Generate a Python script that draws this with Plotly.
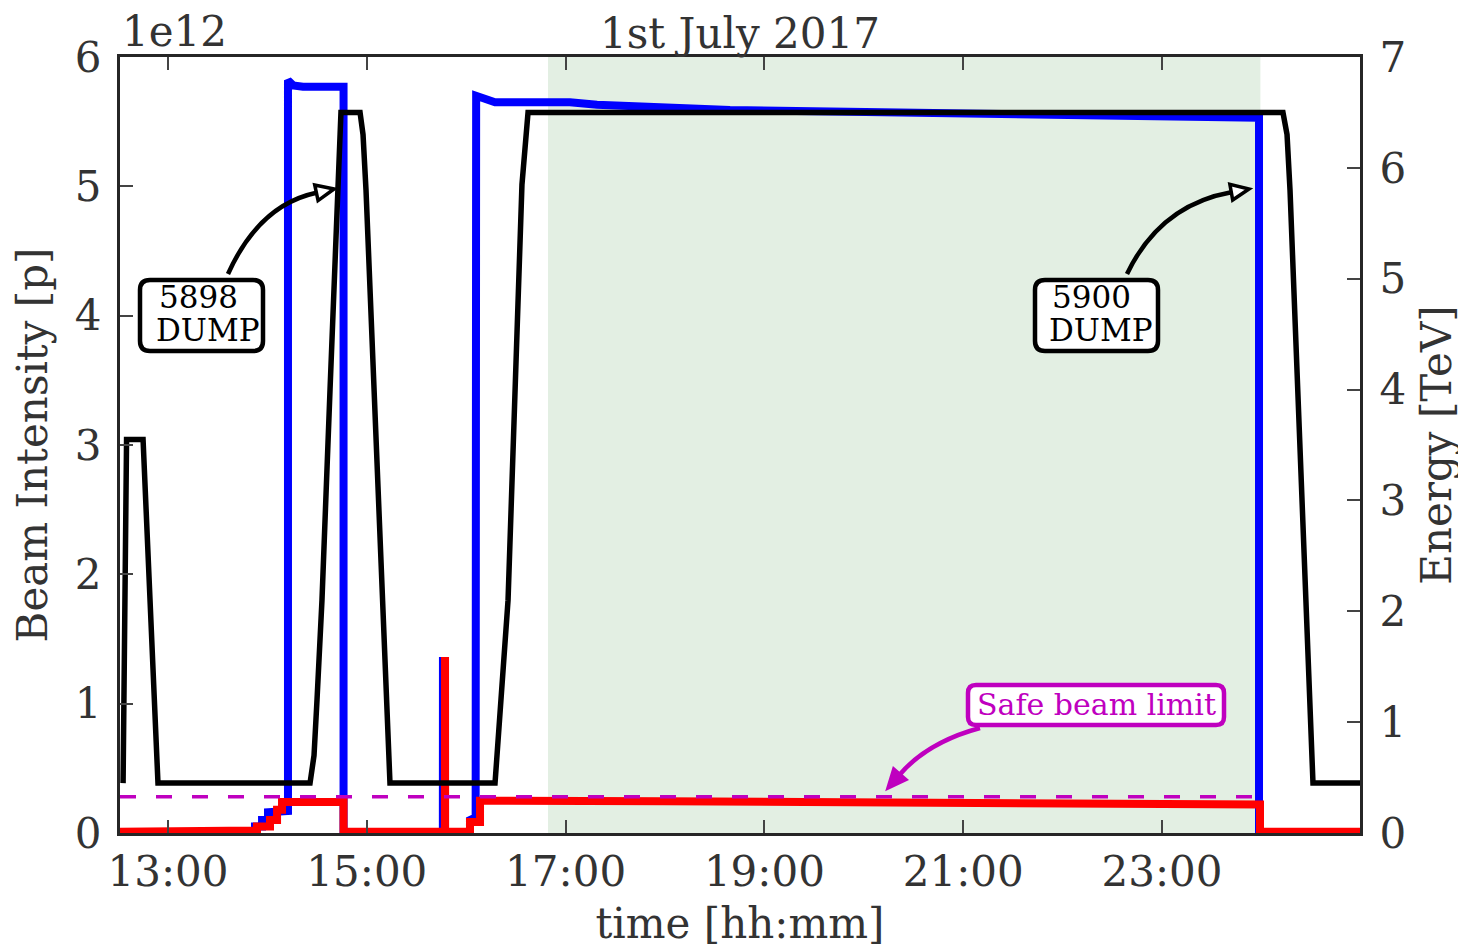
import plotly.graph_objects as go
import pandas as pd

DAY = pd.Timestamp("2017-07-01")

# ---------------- data (times in decimal hours since 00:00, 1 July 2017) -------------
# Energy [TeV] (black, right axis)
energy_hours = [12.548, 12.583, 12.749, 12.899, 14.429, 14.469, 14.499, 14.549, 14.630, 14.690, 14.740,
                14.932, 14.962, 14.992, 15.163, 15.233, 16.290, 16.320, 16.421, 16.561, 16.622,
                24.217, 24.258, 24.288, 24.519, 24.992]
energy_tev = [0.45, 3.55, 3.55, 0.45, 0.45, 0.7, 1.2, 2.1, 4.0, 5.5, 6.5,
              6.5, 6.3, 5.8, 2.1, 0.45, 0.45, 0.8, 2.1, 5.85, 6.5,
              6.5, 6.3, 5.8, 0.45, 0.45]

# Beam intensity [1e12 p] (blue, left axis)
blue_hours = [12.517, 13.875, 13.875, 13.946, 13.946, 14.006, 14.006, 14.207, 14.207, 14.26, 14.358,
              14.766, 14.766, 15.765, 15.766, 15.767, 16.038, 16.038, 16.095, 16.100, 16.29,
              17.044, 17.316, 18.654, 20.364, 22.376, 23.976, 23.976, 24.992]
blue_int = [0.0, 0.0, 0.05, 0.05, 0.10, 0.10, 0.16, 0.17, 5.82, 5.78, 5.77,
            5.77, 0.0, 0.0, 1.36, 0.0, 0.0, 0.10, 0.12, 5.70, 5.65,
            5.65, 5.63, 5.59, 5.57, 5.55, 5.53, 0.0, 0.0]

# Intensity above safe-beam scale [1e12 p] (red, left axis)
red_hours = [12.517, 13.543, 13.543, 13.895, 13.895, 14.026, 14.026, 14.097, 14.097, 14.147, 14.147,
             14.766, 14.766, 15.786, 15.787, 15.788, 16.038, 16.038, 16.139, 16.139, 18.0,
             20.5, 23.986, 23.986, 24.992]
red_int = [0.01, 0.01, 0.02, 0.02, 0.05, 0.05, 0.10, 0.10, 0.18, 0.18, 0.24,
           0.24, 0.01, 0.01, 1.36, 0.01, 0.01, 0.085, 0.085, 0.25, 0.245,
           0.235, 0.22, 0.01, 0.01]

# Safe beam limit (magenta dashed)
limit_hours = [12.517, 23.97]
limit_int = [0.28, 0.28]

# Stable-beams shaded period
shade_hours = [16.823, 23.99]

x_range_hours = [12.517, 24.992]
tick_hours = [13, 15, 17, 19, 21, 23]
tick_labels = ["13:00", "15:00", "17:00", "19:00", "21:00", "23:00"]


def t(hours):
    return [DAY + pd.to_timedelta(h, unit="h") for h in hours]


FONT = "DejaVu Serif"
TXT = "#333333"
SPINE = "#262626"
FS = 42

fig = go.Figure()
fig.add_trace(go.Scatter(x=t(blue_hours), y=blue_int, mode="lines",
                         line=dict(color="#0000FF", width=8), showlegend=False, yaxis="y"))
fig.add_trace(go.Scatter(x=t(red_hours), y=red_int, mode="lines",
                         line=dict(color="#FF0000", width=8), showlegend=False, yaxis="y"))
fig.add_trace(go.Scatter(x=t(limit_hours), y=limit_int, mode="lines",
                         line=dict(color="#BF00BF", width=3.5, dash="16px,20px"), showlegend=False,
                         yaxis="y"))
fig.add_trace(go.Scatter(x=t(energy_hours), y=energy_tev, mode="lines",
                         line=dict(color="#000000", width=5.5), showlegend=False, yaxis="y2"))

# page body has an 8px margin, so the figure is made 8px smaller
OFF = 8
W, H = 1466 - OFF, 948 - OFF
# plot area in screenshot pixels
L, R, T, B = 120, 1360, 57, 833


def px(x):
    return (x - L) / (R - L)


def py(y):
    return (B - y) / (B - T)


def rrect(x0, y0, x1, y1, r):
    rx, ry = r / (R - L), r / (B - T)
    a, b, c, d = px(x0), py(y1), px(x1), py(y0)  # left, bottom, right, top in paper
    return (f"M {a+rx},{d} L {c-rx},{d} Q {c},{d} {c},{d-ry} L {c},{b+ry} Q {c},{b} {c-rx},{b} "
            f"L {a+rx},{b} Q {a},{b} {a},{b+ry} L {a},{d-ry} Q {a},{d} {a+rx},{d} Z")


def curved_arrow(p0, c, tip, color, fill, head_len=18, head_w=8):
    dx, dy = tip[0] - c[0], tip[1] - c[1]
    n = (dx * dx + dy * dy) ** 0.5
    ux, uy = dx / n, dy / n
    base = (tip[0] - head_len * ux, tip[1] - head_len * uy)
    pxp, pyp = -uy, ux
    c1 = (base[0] + head_w * pxp, base[1] + head_w * pyp)
    c2 = (base[0] - head_w * pxp, base[1] - head_w * pyp)
    shaft = f"M {px(p0[0])},{py(p0[1])} Q {px(c[0])},{py(c[1])} {px(base[0])},{py(base[1])}"
    head = (f"M {px(tip[0])},{py(tip[1])} L {px(c1[0])},{py(c1[1])} "
            f"L {px(c2[0])},{py(c2[1])} Z")
    return [
        dict(type="path", xref="paper", yref="paper", path=shaft,
             line=dict(color=color, width=4.5), layer="above"),
        dict(type="path", xref="paper", yref="paper", path=head,
             line=dict(color=color, width=3.5), fillcolor=fill, layer="above"),
    ]


shapes = [
    dict(type="rect", xref="x", yref="paper", x0=t([shade_hours[0]])[0], x1=t([shade_hours[1]])[0],
         y0=0, y1=1, fillcolor="rgb(227,239,227)", line=dict(width=0), layer="below"),
]
shapes += curved_arrow((228, 274), (259, 205), (334, 189), "#000000", "#FFFFFF")
shapes += curved_arrow((1127, 274), (1160, 205), (1249, 189), "#000000", "#FFFFFF")
shapes += curved_arrow((980, 728), (928, 742), (888, 788), "#BF00BF", "#BF00BF")
shapes += [
    dict(type="path", xref="paper", yref="paper", path=rrect(140, 280, 263, 351, 10),
         line=dict(color="#000000", width=4.5), fillcolor="#FFFFFF", layer="above"),
    dict(type="path", xref="paper", yref="paper", path=rrect(1035, 280, 1158, 351, 10),
         line=dict(color="#000000", width=4.5), fillcolor="#FFFFFF", layer="above"),
    dict(type="path", xref="paper", yref="paper", path=rrect(968, 685, 1224, 725, 8),
         line=dict(color="#BF00BF", width=4.5), fillcolor="#FFFFFF", layer="above"),
]


def label(text, x, y, size=31, color="#000000", xanchor="left"):
    return dict(text=text, xref="paper", yref="paper", x=px(x), y=py(y), xanchor=xanchor,
                yanchor="middle", showarrow=False, font=dict(family=FONT, size=size, color=color))


annotations = [
    label("5898", 157, 297),
    label("DUMP", 154, 330),
    label("5900", 1050, 297),
    label("DUMP", 1047, 330),
    label("Safe beam limit", 1096, 704, size=30, color="#BF00BF", xanchor="center"),
    dict(text="1e12", xref="paper", yref="paper", x=px(120), y=py(32), xanchor="left",
         yanchor="middle", showarrow=False, font=dict(family=FONT, size=FS, color=TXT)),
]

axis_common = dict(showline=True, linecolor=SPINE, linewidth=3, ticks="inside", ticklen=13,
                   tickwidth=2, tickcolor="#444444", showgrid=False, zeroline=False,
                   automargin=False, tickfont=dict(family=FONT, size=FS, color=TXT))

fig.update_layout(
    width=W, height=H,
    margin=dict(l=L - OFF, r=W - (R - OFF), t=T - OFF, b=H - (B - OFF)),
    plot_bgcolor="white", paper_bgcolor="white",
    title=dict(text="1st July 2017", x=(740 - OFF) / W, xanchor="center",
               y=1 - (33 - OFF) / H, yanchor="middle",
               yref="container", font=dict(family=FONT, size=FS, color=TXT)),
    xaxis=dict(type="date", range=t(x_range_hours), tickvals=t(tick_hours), ticktext=tick_labels,
               mirror="ticks", title=dict(text="time [hh:mm]", standoff=16,
                                          font=dict(family=FONT, size=FS, color=TXT)),
               **axis_common),
    yaxis=dict(range=[0, 6], tickvals=[0, 1, 2, 3, 4, 5, 6], side="left", ticklabelstandoff=7,
               title=dict(text="Beam Intensity [p]", standoff=17,
                          font=dict(family=FONT, size=FS, color=TXT)),
               **axis_common),
    yaxis2=dict(range=[0, 7], tickvals=[0, 1, 2, 3, 4, 5, 6, 7], overlaying="y", side="right",
                ticklabelstandoff=8,
                title=dict(text="Energy [TeV]", standoff=17,
                           font=dict(family=FONT, size=FS, color=TXT)),
                **axis_common),
    shapes=shapes,
    annotations=annotations,
)

fig.write_html("out.html")
